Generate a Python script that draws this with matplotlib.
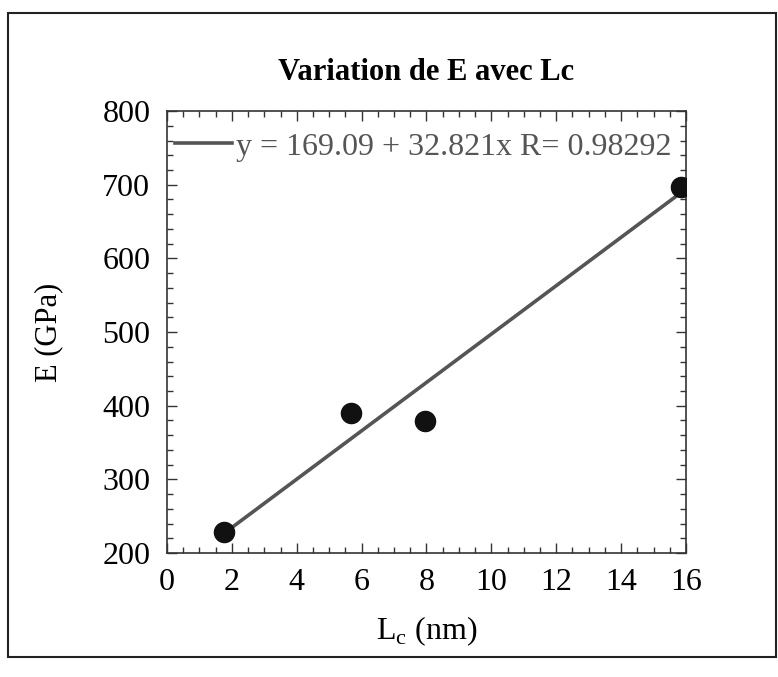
import matplotlib.pyplot as plt
import numpy as np
from matplotlib.patches import Rectangle
from matplotlib.ticker import MultipleLocator

# data
lc_nm = np.array([1.76, 5.67, 7.95, 15.85])
e_gpa = np.array([229.0, 390.0, 379.0, 697.0])

# linear fit reported on the chart
fit_intercept = 169.09
fit_slope = 32.821
fit_r = 0.98292

plt.rcParams["font.family"] = ["Liberation Serif", "DejaVu Serif"]

fig = plt.figure(figsize=(7.78, 6.77), dpi=100)
ax = fig.add_axes([0.2147, 0.183, 0.667, 0.653])

# frame around the whole figure
fig.patches.append(
    Rectangle((0.010, 0.029), 0.988, 0.952, transform=fig.transFigure,
              fill=False, edgecolor="#222222", linewidth=1.5)
)

xfit = np.array([lc_nm.min(), lc_nm.max()])
yfit = fit_intercept + fit_slope * xfit
ax.plot(xfit, yfit, color="#555555", lw=2.6,
        label="y = {0:.2f} + {1:.3f}x R= {2:.5f}".format(fit_intercept, fit_slope, fit_r))
ax.plot(lc_nm, e_gpa, "o", color="#111111", markersize=14.5, zorder=3)

ax.set_xlim(0, 16)
ax.set_ylim(200, 800)
ax.xaxis.set_major_locator(MultipleLocator(2))
ax.xaxis.set_minor_locator(MultipleLocator(0.5))
ax.yaxis.set_major_locator(MultipleLocator(100))
ax.yaxis.set_minor_locator(MultipleLocator(20))
ax.tick_params(which="both", direction="in", top=True, right=True,
               labelsize=23, color="#333333", width=1)
ax.tick_params(which="major", length=7)
ax.tick_params(axis="x", which="major", pad=11)
ax.tick_params(axis="y", which="major", pad=12)
ax.tick_params(which="minor", length=4)
for s in ax.spines.values():
    s.set_linewidth(1.2)
    s.set_color("#333333")

ax.set_title("Variation de E avec Lc", fontsize=22, fontweight="bold", pad=22)
ax.set_xlabel(r"L$_\mathregular{c}$ (nm)", fontsize=23, labelpad=12)
ax.set_ylabel("E (GPa)", fontsize=22, labelpad=28)

leg = ax.legend(loc="center left", bbox_to_anchor=(0.015, 0.919), frameon=False,
                fontsize=23, handlelength=1.8, handletextpad=0.1,
                borderpad=0, borderaxespad=0, labelcolor="#555555")

fig.savefig("out.png", dpi=100)
